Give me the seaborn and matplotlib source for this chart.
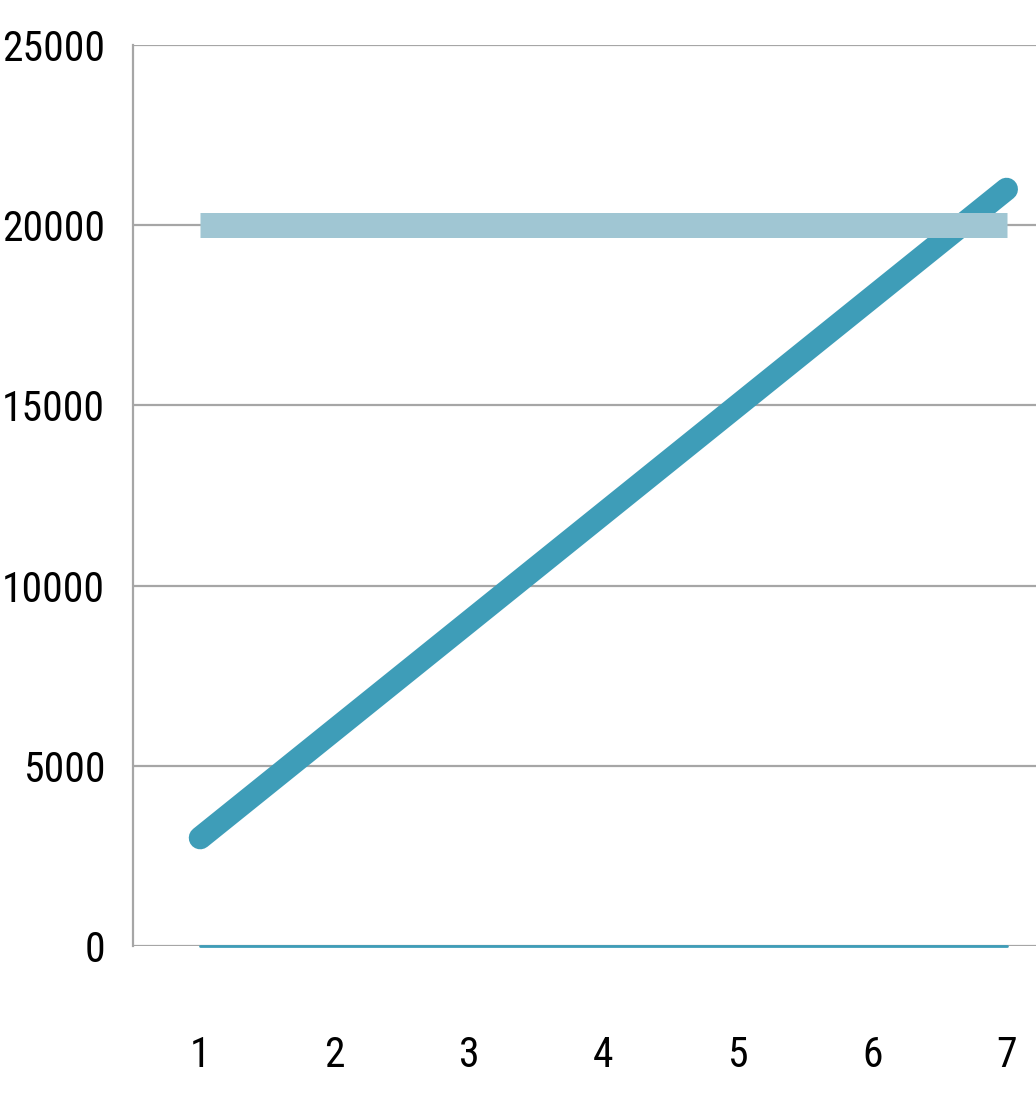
import matplotlib
matplotlib.use("Agg")
import matplotlib.pyplot as plt
from matplotlib import font_manager as fm
import seaborn as sns
import pandas as pd

# ---- data ----
x_values = [1, 2, 3, 4, 5, 6, 7]
growth = [3000, 6000, 9000, 12000, 15000, 18000, 21000]
target = [20000, 20000, 20000, 20000, 20000, 20000, 20000]
baseline = [0, 0, 0, 0, 0, 0, 0]
y_ticks = [0, 5000, 10000, 15000, 20000, 25000]

sns.set_theme(style="white")

# pick a condensed font if available
names = {f.name for f in fm.fontManager.ttflist}
font_kw = {}
size = 30
for cand, sz in [("Noto Sans ExtraCondensed", 33), ("Liberation Sans Narrow", 30),
                 ("Noto Sans Condensed", 30), ("Roboto Condensed", 30)]:
    if cand in names:
        font_kw = {"family": cand}
        size = sz
        break
else:
    condensed = [f for f in fm.fontManager.ttflist
                 if f.name == "DejaVu Sans" and f.stretch == "condensed"]
    if condensed:
        font_kw = {"family": "DejaVu Sans", "stretch": "condensed"}
    else:
        font_kw = {"family": "DejaVu Sans"}
    size = 26

fig = plt.figure(figsize=(10.36, 10.93), dpi=100)
ax = fig.add_axes([0.1284, 0.1345, 0.908, 0.8243])

df = pd.DataFrame({"x": x_values, "growth": growth, "target": target, "base": baseline})

sns.lineplot(data=df, x="x", y="base", ax=ax, color="#3E9DB8", linewidth=2.0,
             zorder=3, clip_on=False)
sns.lineplot(data=df, x="x", y="growth", ax=ax, color="#3E9DB8", linewidth=16.5,
             solid_capstyle="round", zorder=4)
sns.lineplot(data=df, x="x", y="target", ax=ax, color="#A0C6D3", linewidth=18,
             solid_capstyle="butt", zorder=5)

ax.set_xlim(0.5, 7.5)
ax.set_ylim(0, 25000)
ax.set_xticks(x_values)
ax.set_xticklabels([str(v) for v in x_values])
ax.set_yticks(y_ticks)
ax.set_yticklabels([str(v) for v in y_ticks])
ax.set_xlabel("")
ax.set_ylabel("")

ax.yaxis.grid(True, color="#A6A6A6", linewidth=1.6)
ax.xaxis.grid(False)
ax.set_axisbelow(True)
for s in ["top", "right", "bottom"]:
    ax.spines[s].set_visible(False)
ax.spines["left"].set_color("#A6A6A6")
ax.spines["left"].set_linewidth(1.6)

ax.tick_params(axis="both", length=0)
ax.tick_params(axis="y", pad=20)
ax.tick_params(axis="x", pad=64)
for lab in ax.get_xticklabels() + ax.get_yticklabels():
    lab.set_fontsize(size)
    lab.set_color("#000000")
    for k, v in font_kw.items():
        if k == "family":
            lab.set_family(v)
        elif k == "stretch":
            lab.set_stretch(v)

fig.savefig("out.png", dpi=100)
